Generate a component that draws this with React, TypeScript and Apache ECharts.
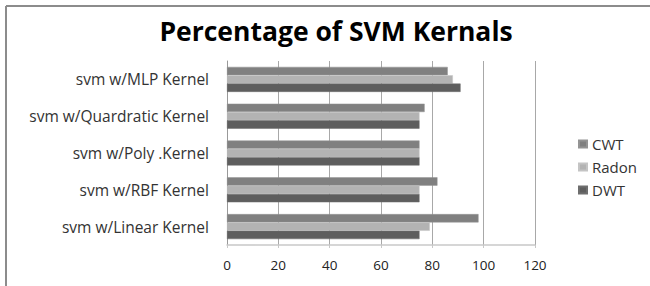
import React, { useEffect, useRef } from "react";
import * as echarts from "echarts";

const categories = [
  "svm w/Linear Kernel",
  "svm w/RBF Kernel",
  "svm w/Poly .Kernel",
  "svm w/Quardratic Kernel",
  "svm w/MLP Kernel",
];
const dwt = [75, 75, 75, 75, 91];
const radon = [79, 75, 75, 75, 88];
const cwt = [98, 82, 75, 77, 86];
const xTicks = { min: 0, max: 120, interval: 20 };

export default function App() {
  const ref = useRef<HTMLDivElement>(null);
  useEffect(() => {
    if (!ref.current) return;
    const chart = echarts.init(ref.current, undefined, { renderer: "svg" });
    const font = "'Open Sans', sans-serif";
    chart.setOption({
      animation: false,
      backgroundColor: "#ffffff",
      title: {
        text: "Percentage of SVM Kernals",
        left: 331,
        textAlign: "center",
        top: 12,
        textStyle: { fontFamily: font, fontSize: 26.5, fontWeight: "bold", color: "#000" },
      },
      legend: {
        data: ["CWT", "Radon", "DWT"],
        orient: "vertical",
        left: 573,
        top: 131,
        itemWidth: 8,
        itemHeight: 7,
        itemGap: 7,
        icon: "rect",
        textStyle: { fontFamily: font, fontSize: 15, lineHeight: 16, color: "#333" },
      },
      grid: { left: 227, top: 61, width: 308, height: 184, containLabel: false },
      xAxis: {
        type: "value",
        min: xTicks.min,
        max: xTicks.max,
        interval: xTicks.interval,
        axisLine: { show: true, lineStyle: { color: "#c8c8c8", width: 1.5 } },
        axisTick: { show: true, length: 3, lineStyle: { color: "#c8c8c8" } },
        splitLine: { show: true, lineStyle: { color: "#a8a8a8", width: 1 } },
        axisLabel: { fontFamily: font, fontSize: 13.5, color: "#222", margin: 13 },
      },
      yAxis: {
        type: "category",
        data: categories,
        axisLine: { show: true, lineStyle: { color: "#999", width: 1 } },
        axisTick: { show: false },
        axisLabel: { fontFamily: font, fontSize: 15.5, color: "#333", margin: 18 },
      },
      graphic: [
        { type: "line", shape: { x1: 6, y1: 6, x2: 650, y2: 6 }, style: { stroke: "#8c8c8c", lineWidth: 2 } },
        { type: "line", shape: { x1: 6, y1: 6, x2: 6, y2: 286 }, style: { stroke: "#8c8c8c", lineWidth: 2 } },
      ],
      series: [
        { name: "CWT", type: "bar", data: cwt, barGap: "0%", barCategoryGap: "32%", itemStyle: { color: "#808080", borderColor: "#949494", borderWidth: 0.5 } },
        { name: "Radon", type: "bar", data: radon, barGap: "0%", barCategoryGap: "32%", itemStyle: { color: "#b3b3b3", borderColor: "#c4c4c4", borderWidth: 0.5 } },
        { name: "DWT", type: "bar", data: dwt, barGap: "0%", barCategoryGap: "32%", itemStyle: { color: "#5e5e5e", borderColor: "#6e6e6e", borderWidth: 0.5 } },
      ],
    });
    return () => chart.dispose();
  }, []);
  return (
    <div style={{ position: "fixed", left: 0, top: 0, width: 650, height: 286 }}>
      <div ref={ref} style={{ width: 650, height: 286 }} />
    </div>
  );
}
